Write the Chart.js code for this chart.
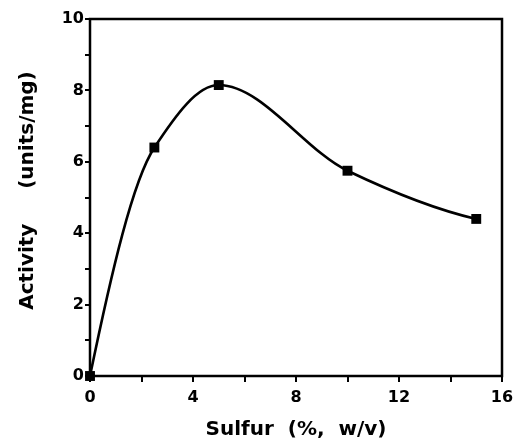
<!DOCTYPE html>
<html>
<head>
  <meta charset="utf-8">
  <title>Activity vs Sulfur</title>
  <script src="https://cdnjs.cloudflare.com/ajax/libs/Chart.js/4.3.0/chart.umd.min.js"></script>
  <style>
    html, body { margin: 0; padding: 0; background: #fff; }
    #wrap { width: 514px; height: 440px; }
  </style>
</head>
<body>
  <div id="wrap"><canvas id="chart" width="514" height="440"></canvas></div>
  <script>
    // values
    var sulfur = [0, 2.5, 5, 10, 15];
    var activity = [0, 6.4, 8.15, 5.75, 4.4];
    var xTicks = [0, 4, 8, 12, 16];
    var yTicks = [0, 2, 4, 6, 8, 10];

    var points = sulfur.map(function(s, i) { return { x: s, y: activity[i] }; });

    // shape-preserving (pchip) tangents, the curve in the figure looks like this
    function pchipSlopes(xs, ys) {
      var n = xs.length, h = [], d = [], m = [];
      for (var i = 0; i < n - 1; i++) {
        h[i] = xs[i + 1] - xs[i];
        d[i] = (ys[i + 1] - ys[i]) / h[i];
      }
      for (i = 1; i < n - 1; i++) {
        if (d[i - 1] * d[i] <= 0) { m[i] = 0; continue; }
        var w1 = 2 * h[i] + h[i - 1], w2 = h[i] + 2 * h[i - 1];
        m[i] = (w1 + w2) / (w1 / d[i - 1] + w2 / d[i]);
      }
      function endSlope(h0, h1, d0, d1) {
        var s = ((2 * h0 + h1) * d0 - h0 * d1) / (h0 + h1);
        if (Math.sign(s) !== Math.sign(d0)) s = 0;
        else if (Math.sign(d0) !== Math.sign(d1) && Math.abs(s) > Math.abs(3 * d0)) s = 3 * d0;
        return s;
      }
      m[0] = endSlope(h[0], h[1], d[0], d[1]);
      m[n - 1] = endSlope(h[n - 2], h[n - 3], d[n - 2], d[n - 3]);
      return m;
    }

    var curve = {
      id: 'curve',
      beforeDatasetsDraw: function(chart) {
        var xs = chart.scales.x, ys = chart.scales.y, ctx = chart.ctx;
        var m = pchipSlopes(sulfur, activity);
        var px = function(v) { return xs.getPixelForValue(v); };
        var py = function(v) { return ys.getPixelForValue(v); };
        ctx.save();
        ctx.strokeStyle = '#000';
        ctx.lineWidth = 2.6;
        ctx.lineJoin = 'round';
        ctx.beginPath();
        ctx.moveTo(px(sulfur[0]), py(activity[0]));
        for (var i = 0; i < sulfur.length - 1; i++) {
          var h = (sulfur[i + 1] - sulfur[i]) / 3;
          ctx.bezierCurveTo(
            px(sulfur[i] + h), py(activity[i] + m[i] * h),
            px(sulfur[i + 1] - h), py(activity[i + 1] - m[i + 1] * h),
            px(sulfur[i + 1]), py(activity[i + 1]));
        }
        ctx.stroke();
        ctx.restore();
      }
    };

    // box around the plot area
    var frame = {
      id: 'frame',
      afterDraw: function(chart) {
        var a = chart.chartArea, ctx = chart.ctx;
        ctx.save();
        ctx.strokeStyle = '#000';
        ctx.lineWidth = 2.5;
        ctx.strokeRect(a.left, a.top, a.right - a.left, a.bottom - a.top);
        ctx.restore();
      }
    };

    var tickFont = { family: 'DejaVu Sans', weight: 'bold', size: 16 };
    var titleFont = { family: 'DejaVu Sans', weight: 'bold', size: 20 };

    var ctx = document.getElementById('chart').getContext('2d');
    window.chart = new Chart(ctx, {
      type: 'scatter',
      data: {
        datasets: [{
          data: points,
          showLine: false,
          clip: false,
          pointStyle: 'rect',
          pointRadius: 7,
          pointBackgroundColor: '#000',
          pointBorderColor: '#000',
          pointBorderWidth: 0
        }]
      },
      options: {
        responsive: false,
        animation: false,
        layout: { padding: { top: 19, right: 12, left: 0, bottom: 0 } },
        plugins: { legend: { display: false }, tooltip: { enabled: false } },
        scales: {
          x: {
            type: 'linear',
            min: 0, max: 16,
            afterFit: function(s) { s.height = 64; s.paddingRight = 0; },
            ticks: {
              stepSize: 2,
              color: '#000',
              font: tickFont,
              padding: 6,
              maxRotation: 0,
              autoSkip: false,
              callback: function(v) { return xTicks.indexOf(v) >= 0 ? String(v) : ''; }
            },
            grid: { drawOnChartArea: false, drawTicks: true, tickLength: 6, color: '#000', lineWidth: 2 },
            border: { display: false },
            title: { display: true, text: 'Sulfur  (%,  w/v)', color: '#000', font: titleFont, padding: { top: 0, bottom: -2 } }
          },
          y: {
            min: 0, max: 10,
            afterFit: function(s) { s.width = 90; },
            ticks: {
              stepSize: 1,
              color: '#000',
              font: tickFont,
              padding: 1,
              autoSkip: false,
              callback: function(v) { return yTicks.indexOf(v) >= 0 ? String(v) : ''; }
            },
            grid: { drawOnChartArea: false, drawTicks: true, tickLength: 5, color: '#000', lineWidth: 2 },
            border: { display: false },
            title: { display: true, text: '  Activity     (units/mg)', color: '#000', font: titleFont, padding: { top: 16, bottom: 0 } }
          }
        }
      },
      plugins: [curve, frame]
    });
  </script>
</body>
</html>
